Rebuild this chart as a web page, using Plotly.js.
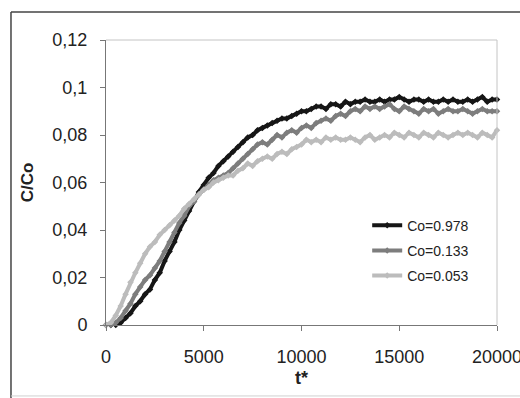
<!DOCTYPE html>
<html>
<head>
<meta charset="utf-8">
<script src="https://cdn.plot.ly/plotly-3.0.1.min.js"></script>
<style>html,body{margin:0;padding:0;background:#fff;}#chart{width:520px;height:398px;}</style>
</head>
<body>
<div id="chart"></div>
<script>
const tValues = [0,250,500,750,1000,1250,1500,1750,2000,2250,2500,2750,3000,3250,3500,3750,4000,4250,4500,4750,5000,5250,5500,5750,6000,6250,6500,6750,7000,7250,7500,7750,8000,8250,8500,8750,9000,9250,9500,9750,10000,10250,10500,10750,11000,11250,11500,11750,12000,12250,12500,12750,13000,13250,13500,13750,14000,14250,14500,14750,15000,15250,15500,15750,16000,16250,16500,16750,17000,17250,17500,17750,18000,18250,18500,18750,19000,19250,19500,19750,20000];

const seriesNames = ["Co=0.978", "Co=0.133", "Co=0.053"];

const co0978 = [0,0,0,0.001,0.003,0.005,0.008,0.010,0.013,0.015,0.019,0.022,0.027,0.031,0.035,0.040,0.044,0.048,0.052,0.056,0.059,0.062,0.064,0.067,0.069,0.071,0.073,0.075,0.077,0.079,0.080,0.082,0.083,0.084,0.085,0.086,0.087,0.087,0.088,0.089,0.090,0.090,0.091,0.092,0.092,0.091,0.093,0.093,0.092,0.094,0.093,0.094,0.094,0.095,0.094,0.094,0.095,0.094,0.095,0.095,0.096,0.095,0.094,0.095,0.095,0.094,0.095,0.094,0.094,0.095,0.094,0.095,0.094,0.094,0.095,0.094,0.095,0.096,0.094,0.095,0.095];

const co0133 = [0,0,0.001,0.003,0.006,0.009,0.013,0.016,0.019,0.021,0.024,0.027,0.031,0.035,0.039,0.043,0.046,0.050,0.052,0.055,0.057,0.059,0.061,0.062,0.063,0.064,0.066,0.068,0.070,0.072,0.074,0.076,0.077,0.076,0.078,0.080,0.079,0.081,0.082,0.081,0.083,0.084,0.083,0.085,0.086,0.087,0.086,0.088,0.089,0.088,0.090,0.091,0.090,0.092,0.091,0.092,0.091,0.092,0.093,0.091,0.090,0.092,0.091,0.090,0.089,0.091,0.090,0.091,0.089,0.090,0.091,0.090,0.090,0.091,0.090,0.089,0.090,0.091,0.090,0.090,0.090];

const co0053 = [0,0.001,0.004,0.008,0.013,0.018,0.022,0.026,0.030,0.033,0.035,0.038,0.040,0.042,0.044,0.046,0.049,0.051,0.053,0.055,0.057,0.058,0.060,0.061,0.062,0.063,0.063,0.065,0.066,0.068,0.067,0.069,0.070,0.071,0.070,0.072,0.073,0.072,0.074,0.075,0.076,0.078,0.077,0.078,0.077,0.079,0.078,0.079,0.078,0.078,0.079,0.078,0.077,0.079,0.080,0.078,0.079,0.080,0.079,0.081,0.080,0.079,0.081,0.080,0.079,0.081,0.080,0.079,0.081,0.080,0.079,0.080,0.081,0.080,0.081,0.080,0.079,0.081,0.080,0.079,0.082];

const xTickVals = [0,5000,10000,15000,20000];
const xTickText = ["0","5000","10000","15000","20000"];
const yTickVals = [0,0.02,0.04,0.06,0.08,0.1,0.12];
const yTickText = ["0","0,02","0,04","0,06","0,08","0,1","0,12"];

const colors = ["#161616", "#7d7d7d", "#bcbcbc"];
const allSeries = [co0978, co0133, co0053];

const traces = allSeries.map((ys, i) => ({
  x: tValues, y: ys, type: "scatter", mode: "lines+markers",
  name: seriesNames[i], legendgroup: "g" + i,
  line: {color: colors[i], width: 4},
  marker: {color: colors[i], symbol: "diamond", size: 5},
  cliponaxis: false
}));

const F = "Arial, 'Liberation Sans', sans-serif";
const layout = {
  width: 520, height: 398,
  margin: {l: 106, r: 23, t: 40, b: 73},
  paper_bgcolor: "#fff", plot_bgcolor: "#fff",
  showlegend: true,
  legend: {x: 0.668, xanchor: "left", y: 0.405, yanchor: "top", bgcolor: "rgba(0,0,0,0)",
           font: {family: F, size: 14, color: "#222"}, traceorder: "grouped", tracegroupgap: 4},
  xaxis: {range: [0, 20000], tickvals: xTickVals, ticktext: xTickText, ticklabeloverflow: "allow",
          ticks: "outside", ticklen: 5, tickcolor: "#777", showline: true, linecolor: "#777", linewidth: 1,
          ticklabelstandoff: 10,
          showgrid: false, zeroline: false, tickfont: {family: F, size: 18, color: "#222"},
          title: {text: "<b>t*</b>", font: {family: F, size: 18, color: "#222"}, standoff: 5}},
  yaxis: {range: [0, 0.12], tickvals: yTickVals, ticktext: yTickText,
          ticks: "outside", ticklen: 5, tickcolor: "#777", showline: true, linecolor: "#777", linewidth: 1,
          ticklabelstandoff: 9,
          showgrid: false, zeroline: false, tickfont: {family: F, size: 18, color: "#222"},
          title: {text: "<b>C/Co</b>", font: {family: F, size: 17, color: "#222"}, standoff: 14}},
  shapes: [
    {type: "line", xref: "paper", yref: "paper", x0: 0, x1: 1, y0: 1, y1: 1, line: {color: "#c4c4c4", width: 1}},
    {type: "line", xref: "paper", yref: "paper", x0: 1, x1: 1, y0: 0, y1: 1, line: {color: "#c4c4c4", width: 1}},
    {type: "line", xref: "paper", yref: "paper", x0: -0.243, x1: 1.1, y0: 1.098, y1: 1.098, line: {color: "#444", width: 1.5}},
    {type: "line", xref: "paper", yref: "paper", x0: -0.243, x1: -0.243, y0: -0.26, y1: 1.098, line: {color: "#444", width: 1.5}},
    {type: "line", xref: "paper", yref: "paper", x0: -0.243, x1: 1.1, y0: -0.249, y1: -0.249, line: {color: "#d0d0d0", width: 1}}
  ]
};

Plotly.newPlot("chart", traces, layout, {displayModeBar: false, staticPlot: true});
</script>
</body>
</html>
